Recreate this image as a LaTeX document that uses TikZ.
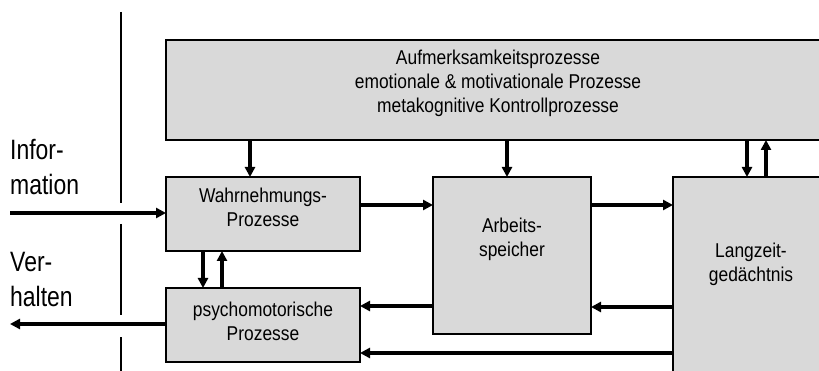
\documentclass[tikz,border=0pt]{standalone}
\usepackage{fontspec}
\setmainfont{Liberation Sans}
\newfontfamily\boxfont[FakeStretch=0.87]{Liberation Sans}
\newfontfamily\sidefont[FakeStretch=0.82]{Liberation Sans}
\usetikzlibrary{arrows.meta}
\definecolor{boxgray}{RGB}{217,217,217}
\tikzset{
  procbox/.style={draw=black, line width=1.6pt, fill=boxgray, rectangle,
    inner sep=0pt, outer sep=0pt, anchor=north west},
  boxtext/.style={font=\boxfont\fontsize{20}{24}\selectfont, align=center,
    inner sep=0pt, text=black},
  sidetext/.style={font=\sidefont\fontsize{28}{35}\selectfont, align=left,
    inner sep=0pt, anchor=west, text=black},
  flow/.style={line width=3.6pt, -{Triangle[length=10pt,width=10pt]}},
  divider/.style={line width=1.3pt}
}
\begin{document}
\begin{tikzpicture}[x=1pt,y=-1pt]
  \useasboundingbox (0,0) rectangle (819,371);

  % process boxes
  \node[procbox, minimum width=660pt, minimum height=100pt] (top) at (166,40) {};
  \node[procbox, minimum width=194pt, minimum height=74pt] (wahr) at (166,177) {};
  \node[procbox, minimum width=194pt, minimum height=74pt] (psy) at (166,288) {};
  \node[procbox, minimum width=158pt, minimum height=157pt] (arb) at (433,177) {};
  \node[procbox, minimum width=160pt, minimum height=200pt] (lzg) at (673,177) {};

  % box labels
  \node[boxtext] (toptext) at (498,83) {Aufmerksamkeitsprozesse\\emotionale \& motivationale Prozesse\\metakognitive Kontrollprozesse};
  \node[boxtext] (wahrtext) at (263,207) {Wahrnehmungs-\\Prozesse};
  \node[boxtext] (psytext) at (263,321) {psychomotorische\\Prozesse};
  \node[boxtext] (arbtext) at (512,239) {Arbeits-\\speicher};
  \node[boxtext] (lzgtext) at (751,264) {Langzeit-\\gedächtnis};

  % side labels
  \node[sidetext] (info) at (10,167) {Infor-\\mation};
  \node[sidetext] (verh) at (10,280) {Ver-\\halten};

  % dividing line, interrupted by the outer arrows
  \coordinate (d0) at (121,12);
  \coordinate (d1) at (121,203);
  \coordinate (d2) at (121,224);
  \coordinate (d3) at (121,315);
  \coordinate (d4) at (121,337);
  \coordinate (d5) at (121,371);
  \draw[divider] (d0) -- (d1);
  \draw[divider] (d2) -- (d3);
  \draw[divider] (d4) -- (d5);

  % free ends of the outer arrows
  \coordinate (infoin) at (10,213);
  \coordinate (verhout) at (10,324);

  % control arrows from the top box
  \draw[flow] (top.south -| 250,0) -- (wahr.north -| 250,0);
  \draw[flow] (top.south -| 507,0) -- (arb.north -| 507,0);
  \draw[flow] (top.south -| 747,0) -- (lzg.north -| 747,0);
  \draw[flow] (lzg.north -| 766,0) -- (top.south -| 766,0);

  % information flow
  \draw[flow] (infoin) -- (infoin -| wahr.west);
  \draw[flow] (wahr.east |- 0,205) -- (arb.west |- 0,205);
  \draw[flow] (arb.east |- 0,205) -- (lzg.west |- 0,205);
  \draw[flow] (wahr.south -| 203,0) -- (psy.north -| 203,0);
  \draw[flow] (psy.north -| 222,0) -- (wahr.south -| 222,0);
  \draw[flow] (lzg.west |- 0,307) -- (arb.east |- 0,307);
  \draw[flow] (arb.west |- 0,306) -- (psy.east |- 0,306);
  \draw[flow] (lzg.west |- 0,353) -- (psy.east |- 0,353);
  \draw[flow] (psy.west |- verhout) -- (verhout);
\end{tikzpicture}
\end{document}
